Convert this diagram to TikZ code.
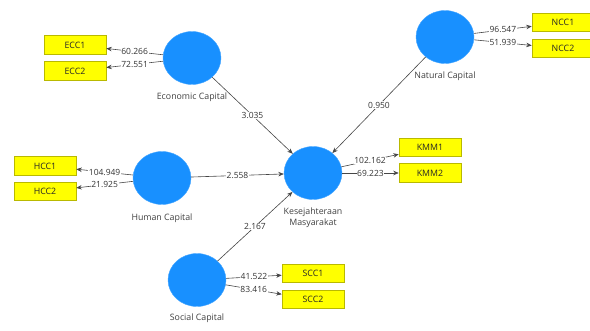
\documentclass[tikz,border=0pt]{standalone}
\usepackage{fontspec}
\setmainfont{Open Sans}
\usetikzlibrary{shapes.geometric,arrows.meta}
\definecolor{lvblue}{RGB}{24,144,255}
\definecolor{boxyellow}{RGB}{255,255,0}
\definecolor{boxedge}{RGB}{185,185,0}
\definecolor{linegray}{RGB}{70,70,70}
\begin{document}
\begin{tikzpicture}[x=1pt,y=-1pt,
  lv/.style={ellipse, fill=lvblue, draw=lvblue!80!white, minimum width=58pt, minimum height=53pt, inner sep=0pt},
  ind/.style={rectangle, fill=boxyellow, draw=boxedge, line width=0.5pt, minimum width=62pt, minimum height=18.5pt, inner sep=0pt, font=\fontsize{8.8}{9}\selectfont, text=black!85},
  lab/.style={font=\fontsize{8.8}{11}\selectfont, text=black!75, align=center},
  num/.style={font=\fontsize{8.5}{9}\selectfont, fill=white, inner sep=0.6pt, text=black!80},
  conn/.style={draw=linegray, line width=0.6pt, -{Stealth[length=5.5pt,width=4.5pt]}},
]
\useasboundingbox (0,0) rectangle (590,331);
% latent variables
\node[lv] (ec) at (192,58) {};
\node[lv] (nc) at (445,37) {};
\node[lv] (hc) at (162,178) {};
\node[lv] (km) at (313,173) {};
\node[lv] (sc) at (197,280) {};
% indicators
\node[ind] (ecc1) at (75,45) {ECC1};
\node[ind] (ecc2) at (75,71) {ECC2};
\node[ind] (ncc1) at (563,22.5) {NCC1};
\node[ind] (ncc2) at (563,48.5) {NCC2};
\node[ind] (hcc1) at (45,166) {HCC1};
\node[ind] (hcc2) at (45,191.5) {HCC2};
\node[ind] (kmm1) at (430,147.5) {KMM1};
\node[ind] (kmm2) at (430,173) {KMM2};
\node[ind] (scc1) at (313,273.5) {SCC1};
\node[ind] (scc2) at (313,299.5) {SCC2};
% names
\node[lab] (ecl) at (192,97) {Economic Capital};
\node[lab] (ncl) at (445,76) {Natural Capital};
\node[lab] (hcl) at (162,218) {Human Capital};
\node[lab] (kml) at (313,218) {Kesejahteraan\\Masyarakat};
\node[lab] (scl) at (197,318) {Social Capital};
% outer loadings
\draw[conn] (ec) -- node[num]{60.266} (ecc1);
\draw[conn] (ec) -- node[num]{72.551} (ecc2);
\draw[conn] (nc) -- node[num]{96.547} (ncc1);
\draw[conn] (nc) -- node[num]{51.939} (ncc2);
\draw[conn] (hc) -- node[num]{104.949} (hcc1);
\draw[conn] (hc) -- node[num]{21.925} (hcc2);
\draw[conn] (km) -- node[num]{102.162} (kmm1);
\draw[conn] (km) -- node[num]{69.223} (kmm2);
\draw[conn] (sc) -- node[num]{41.522} (scc1);
\draw[conn] (sc) -- node[num]{83.416} (scc2);
% structural paths
\draw[conn] (ec) -- node[num]{3.035} (km);
\draw[conn] (nc) -- node[num]{0.950} (km);
\draw[conn] (hc) -- node[num]{2.558} (km);
\draw[conn] (sc) -- node[num]{2.167} (km);
\end{tikzpicture}
\end{document}
